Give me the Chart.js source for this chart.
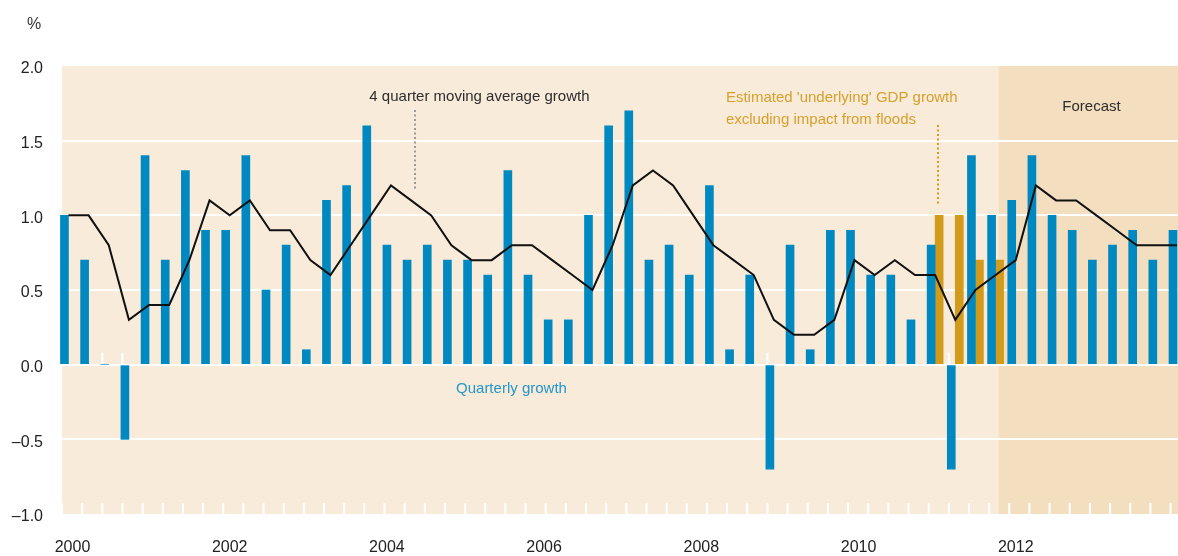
<!DOCTYPE html>
<html>
<head>
<meta charset="utf-8">
<script src="https://cdn.jsdelivr.net/npm/chart.js@4"></script>
<style>
    html, body { margin: 0; padding: 0; background: #fff; }
    #wrap { width: 1178px; height: 556px; position: relative; }
</style>
</head>
<body>
<div id="wrap"><canvas id="pib"></canvas></div>
<script>
// Crecimiento trimestral, 2000 T1 - 2013 T4 (%)
const quarterlyGrowth = [
    1.0, 0.7, 0.0, -0.5, 1.4, 0.7, 1.3, 0.9,
    0.9, 1.4, 0.5, 0.8, 0.1, 1.1, 1.2, 1.6,
    0.8, 0.7, 0.8, 0.7, 0.7, 0.6, 1.3, 0.6,
    0.3, 0.3, 1.0, 1.6, 1.7, 0.7, 0.8, 0.6,
    1.2, 0.1, 0.6, -0.7, 0.8, 0.1, 0.9, 0.9,
    0.6, 0.6, 0.3, 0.8, -0.7, 1.4, 1.0, 1.1,
    1.4, 1.0, 0.9, 0.7, 0.8, 0.9, 0.7, 0.9
];
// Media móvil de 4 trimestres
const movingAverage = [
    1.0, 1.0, 0.8, 0.3, 0.4, 0.4, 0.7, 1.1,
    1.0, 1.1, 0.9, 0.9, 0.7, 0.6, 0.8, 1.0,
    1.2, 1.1, 1.0, 0.8, 0.7, 0.7, 0.8, 0.8,
    0.7, 0.6, 0.5, 0.8, 1.2, 1.3, 1.2, 1.0,
    0.8, 0.7, 0.6, 0.3, 0.2, 0.2, 0.3, 0.7,
    0.6, 0.7, 0.6, 0.6, 0.3, 0.5, 0.6, 0.7,
    1.2, 1.1, 1.1, 1.0, 0.9, 0.8, 0.8, 0.8
];
// Crecimiento 'subyacente' sin el efecto de las inundaciones
const underlyingQuarters = [43, 44, 45, 46];
const underlyingGrowth = [1.0, 1.0, 0.7, 0.7];

const yearLabels = ['2000', '2002', '2004', '2006', '2008', '2010', '2012'];
const yearTickPos = [0.2, 8.0, 15.8, 23.6, 31.4, 39.2, 47.0];
const forecastFrom = 46.15;

const AZUL = '#0088C0';
const ORO = '#D39B1C';
const FUENTE = "'Liberation Sans', Arial, sans-serif";

// textos y líneas punteadas (en coordenadas de datos)
const notas = [
    { text: '4 quarter moving average growth', x: 20.39, y: 1.768, align: 'center', color: '#2d2d2d' },
    { text: "Estimated 'underlying' GDP growth", x: 32.62, y: 1.761, align: 'left', color: '#D6A02E' },
    { text: 'excluding impact from floods', x: 32.62, y: 1.612, align: 'left', color: '#D6A02E' },
    { text: 'Forecast', x: 50.76, y: 1.696, align: 'center', color: '#2d2d2d' },
    { text: 'Quarterly growth', x: 21.98, y: -0.19, align: 'center', color: '#2596C8' }
];
const punteadas = [
    { x: 17.19, y1: 1.706, y2: 1.169, color: '#9a9a9a' },
    { x: 43.14, y1: 1.605, y2: 1.069, color: ORO }
];

const fondo = {
    id: 'fondo',
    beforeDraw(chart) {
        const { ctx, chartArea: a, scales: { x } } = chart;
        ctx.save();
        ctx.fillStyle = '#F8EBDA';
        ctx.fillRect(a.left, a.top, a.width, a.height);
        const fx = x.getPixelForValue(forecastFrom);
        ctx.fillStyle = '#F3DFBF';
        ctx.fillRect(fx, a.top, a.right - fx, a.height);
        ctx.restore();
    },
    beforeDatasetsDraw(chart) {
        // marcas blancas de trimestre en el cero y en el borde inferior
        const { ctx, chartArea: a, scales: { x, y } } = chart;
        const y0 = y.getPixelForValue(0);
        ctx.save();
        ctx.strokeStyle = '#fff';
        ctx.lineWidth = 2;
        for (let i = 0; i <= quarterlyGrowth.length; i++) {
            const px = x.getPixelForValue(i - 0.32);
            if (px < a.left - 1 || px > a.right) continue;
            ctx.beginPath();
            ctx.moveTo(px, y0);
            ctx.lineTo(px, y0 - 12);
            ctx.moveTo(px, a.bottom);
            ctx.lineTo(px, a.bottom - 11);
            ctx.stroke();
        }
        ctx.restore();
    },
    afterDraw(chart) {
        const { ctx, scales: { x, y } } = chart;
        ctx.save();
        ctx.lineWidth = 2;
        ctx.setLineDash([2, 2.5]);
        punteadas.forEach(p => {
            const px = Math.round(x.getPixelForValue(p.x));
            ctx.strokeStyle = p.color;
            ctx.beginPath();
            ctx.moveTo(px, y.getPixelForValue(p.y1));
            ctx.lineTo(px, y.getPixelForValue(p.y2));
            ctx.stroke();
        });
        ctx.setLineDash([]);
        ctx.font = '15px ' + FUENTE;
        ctx.textBaseline = 'alphabetic';
        notas.forEach(n => {
            ctx.fillStyle = n.color;
            ctx.textAlign = n.align;
            ctx.fillText(n.text, x.getPixelForValue(n.x), y.getPixelForValue(n.y));
        });
        // unidad del eje
        ctx.font = '16px ' + FUENTE;
        ctx.fillStyle = '#333';
        ctx.textAlign = 'center';
        ctx.fillText('%', 34, 29);
        ctx.restore();
    }
};

new Chart(document.getElementById('pib'), {
    type: 'bar',
    data: {
        datasets: [
            {
                type: 'line',
                label: '4 quarter moving average growth',
                data: movingAverage.map((v, i) => ({ x: i, y: v })),
                borderColor: '#111',
                borderWidth: 2,
                pointRadius: 0,
                tension: 0,
                clip: false
            },
            {
                label: 'Quarterly growth',
                data: quarterlyGrowth.map((v, i) => ({ x: i, y: v })),
                backgroundColor: AZUL,
                barThickness: 8,
                clip: false
            },
            {
                label: "Estimated 'underlying' GDP growth",
                data: underlyingQuarters.map((q, i) => ({ x: q, y: underlyingGrowth[i] })),
                backgroundColor: ORO,
                barThickness: 8
            }
        ]
    },
    options: {
        responsive: true,
        maintainAspectRatio: false,
        animation: false,
        layout: { padding: { top: 66, right: 0, left: 0, bottom: 0 } },
        plugins: {
            legend: { display: false },
            tooltip: { enabled: false }
        },
        scales: {
            x: {
                type: 'linear',
                min: -0.32,
                max: 55.05,
                offset: false,
                grid: { display: false, drawTicks: false },
                border: { display: false },
                afterBuildTicks: s => { s.ticks = yearTickPos.map(v => ({ value: v })); },
                afterFit: s => { s.height = 42; },
                ticks: {
                    autoSkip: false,
                    maxRotation: 0,
                    padding: 24,
                    color: '#222',
                    font: { family: FUENTE, size: 16 },
                    callback: (v, i) => yearLabels[i]
                }
            },
            y: {
                min: -1,
                max: 2,
                afterFit: s => { s.width = 62; },
                grid: {
                    drawTicks: false,
                    lineWidth: 2,
                    color: c => (c.tick && (c.tick.value === 2 || c.tick.value === -1)) ? 'rgba(0,0,0,0)' : '#fff'
                },
                border: { display: false },
                ticks: {
                    stepSize: 0.5,
                    padding: 19,
                    labelOffset: 3,
                    color: '#222',
                    font: { family: FUENTE, size: 16 },
                    callback: v => v.toFixed(1).replace('-', '\u2013')
                }
            }
        }
    },
    plugins: [fondo]
});
</script>
</body>
</html>
